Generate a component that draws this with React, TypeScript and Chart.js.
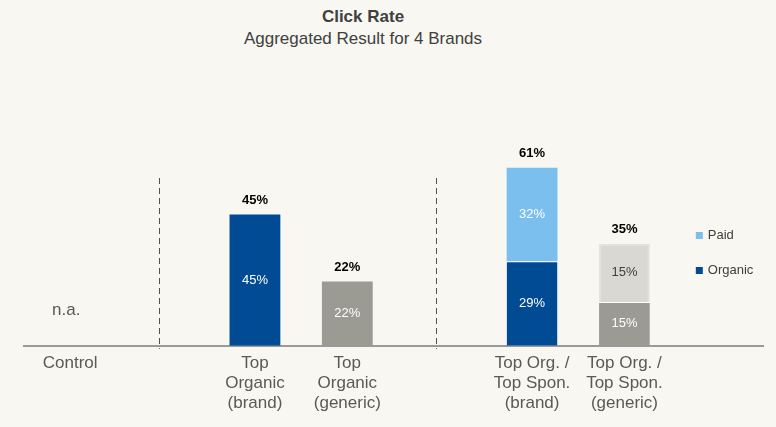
import React, { useEffect, useRef } from "react";
import { Chart, registerables } from "chart.js";

Chart.register(...registerables);

const categories: (string | string[])[] = [
  "Control",
  "",
  ["Top", "Organic", "(brand)"],
  ["Top", "Organic", "(generic)"],
  "",
  ["Top Org. /", "Top Spon.", "(brand)"],
  ["Top Org. /", "Top Spon.", "(generic)"],
  "",
];
const organicValues = [null, null, 45, 22, null, 29, 15, null];
const paidValues = [null, null, null, null, null, 32, 20, null];
const organicLabels = ["", "", "45%", "22%", "", "29%", "15%", ""];
const paidLabels = ["", "", "", "", "", "32%", "15%", ""];
const totalLabels = ["n.a.", "", "45%", "22%", "", "61%", "35%", ""];
const dividerIndices = [1, 4];
const dividerTop = 57.5;

const FONT = "'Liberation Sans', Arial, sans-serif";
const organicColors = ["#004b93", "#004b93", "#004b93", "#9b9a93", "#004b93", "#004b93", "#9b9a93", "#004b93"];
const paidColors = ["#7bbfee", "#7bbfee", "#7bbfee", "#7bbfee", "#7bbfee", "#7bbfee", "#d9d8d3", "#7bbfee"];

const overlayPlugin = {
  id: "overlay",
  beforeDatasetsDraw(chart: any) {
    const { ctx } = chart;
    const x = chart.scales.x;
    const y = chart.scales.y;
    ctx.save();
    ctx.strokeStyle = "#505050";
    ctx.lineWidth = 1;
    ctx.setLineDash([6, 4]);
    dividerIndices.forEach((i) => {
      const px = Math.round(x.getPixelForValue(i)) - 3.5;
      ctx.beginPath();
      ctx.moveTo(px, y.getPixelForValue(dividerTop));
      ctx.lineTo(px, y.getPixelForValue(0) + 3);
      ctx.stroke();
    });
    ctx.restore();
  },
  afterDatasetsDraw(chart: any) {
    const { ctx } = chart;
    const y = chart.scales.y;
    const x = chart.scales.x;
    const m0 = chart.getDatasetMeta(0);
    const m1 = chart.getDatasetMeta(1);
    ctx.save();
    ctx.textAlign = "center";
    ctx.textBaseline = "middle";
    categories.forEach((_, i) => {
      const e0 = m0.data[i];
      const e1 = m1.data[i];
      let top: number | null = null;
      if (organicValues[i] != null && e0) {
        const p = e0.getProps(["x", "y", "base"], true);
        ctx.fillStyle = "#ffffff";
        ctx.font = `13px ${FONT}`;
        ctx.fillText(organicLabels[i], p.x, (p.y + p.base) / 2);
        top = p.y;
      }
      if (paidValues[i] != null && e1) {
        const p = e1.getProps(["x", "y", "base"], true);
        ctx.fillStyle = i === 6 ? "#404040" : "#ffffff";
        ctx.font = `13px ${FONT}`;
        ctx.fillText(paidLabels[i], p.x, (p.y + p.base) / 2);
        top = p.y;
      }
      const cx = x.getPixelForValue(i);
      if (top != null) {
        ctx.fillStyle = "#000000";
        ctx.font = `bold 13px ${FONT}`;
        ctx.fillText(totalLabels[i], cx, top - 14);
      } else if (totalLabels[i]) {
        ctx.fillStyle = "#595959";
        ctx.font = `17px ${FONT}`;
        ctx.fillText(totalLabels[i], cx - 4, y.getPixelForValue(0) - 35);
      }
    });
    // legend in last slot
    const lx = x.getPixelForValue(categories.length - 1) - 21;
    const items = [
      { label: chart.data.datasets[1].label, color: "#7bbfee", yy: y.getPixelForValue(37.7) },
      { label: chart.data.datasets[0].label, color: "#004b93", yy: y.getPixelForValue(25.7) },
    ];
    ctx.textAlign = "left";
    ctx.font = `13px ${FONT}`;
    items.forEach((it) => {
      ctx.fillStyle = it.color;
      ctx.fillRect(lx, Math.round(it.yy) - 4, 7, 7);
      ctx.fillStyle = "#404040";
      ctx.fillText(it.label, lx + 12, it.yy);
    });
    ctx.restore();
  },
};

export default function App() {
  const ref = useRef<HTMLCanvasElement | null>(null);
  useEffect(() => {
    if (!ref.current) return;
    const chart = new Chart(ref.current, {
      type: "bar",
      data: {
        labels: categories,
        datasets: [
          {
            label: "Organic",
            data: organicValues,
            backgroundColor: organicColors,
            borderColor: "#ffffff",
            borderWidth: (c: any) => (paidValues[c.dataIndex] != null ? { top: 1, left: 0, right: 0, bottom: 0 } : 0),
            borderSkipped: false,
            stack: "s",
          },
          {
            label: "Paid",
            data: paidValues,
            backgroundColor: paidColors,
            borderColor: (c: any) => (c.dataIndex === 6 ? "#e3e2dd" : "#7bbfee"),
            borderWidth: (c: any) => (c.dataIndex === 6 ? 2 : 0),
            borderSkipped: "bottom",
            stack: "s",
          },
        ] as any,
      },
      options: {
        animation: false,
        responsive: false,
        maintainAspectRatio: false,
        layout: { padding: { top: 54, left: 24, right: 13, bottom: 6 } },
        datasets: { bar: { categoryPercentage: 1, barPercentage: 0.55 } },
        plugins: { legend: { display: false }, title: { display: false }, tooltip: { enabled: false } },
        scales: {
          x: {
            stacked: true,
            grid: { display: false, drawTicks: false },
            border: { display: true, color: "#9a9a9a", width: 2 },
            ticks: {
              color: "#595959",
              font: { family: FONT, size: 17, lineHeight: 1.2 },
              padding: 7,
              maxRotation: 0,
              autoSkip: false,
            },
          },
          y: { stacked: true, display: false, min: 0, max: 100 },
        },
      },
      plugins: [overlayPlugin],
    } as any);
    return () => chart.destroy();
  }, []);
  return (
    <div style={{ position: "fixed", left: 0, top: 0, width: 776, height: 427, background: "#f8f7f1" }}>
      <div
        style={{
          position: "absolute",
          left: 0,
          top: 6,
          width: 726,
          textAlign: "center",
          fontFamily: FONT,
          fontSize: 17,
          lineHeight: "22px",
          color: "#404040",
        }}
      >
        <div style={{ fontWeight: "bold" }}>Click Rate</div>
        <div>Aggregated Result for 4 Brands</div>
      </div>
      <canvas ref={ref} width={776} height={427} style={{ position: "absolute", left: 0, top: 0, width: 776, height: 427 }} />
    </div>
  );
}
